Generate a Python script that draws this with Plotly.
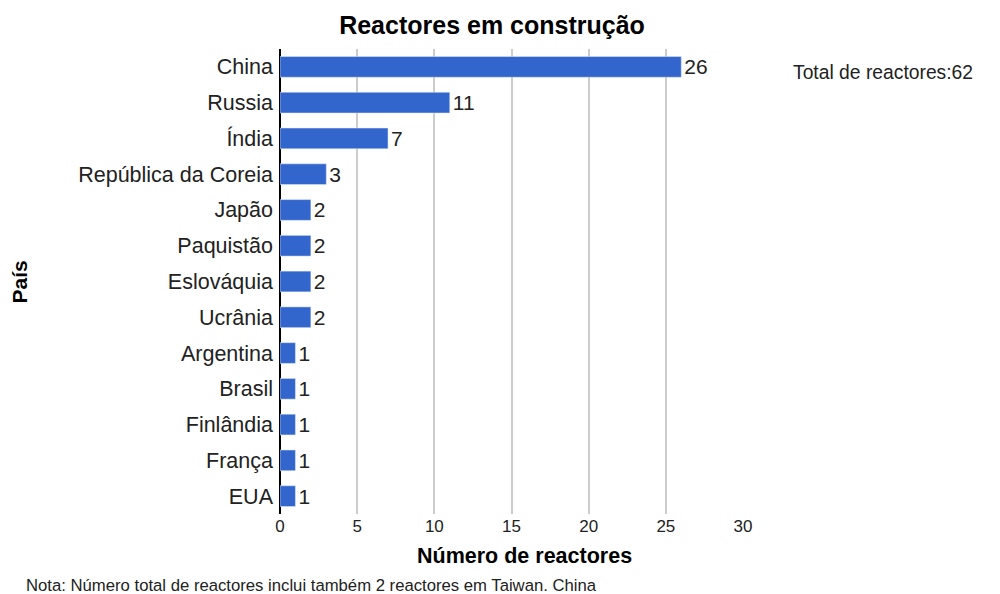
import plotly.graph_objects as go

countries = ["China", "Russia", "Índia", "República da Coreia", "Japão", "Paquistão",
             "Eslováquia", "Ucrânia", "Argentina", "Brasil", "Finlândia", "França", "EUA"]
reactors = [26, 11, 7, 3, 2, 2, 2, 2, 1, 1, 1, 1, 1]
tick_vals = [0, 5, 10, 15, 20, 25, 30]
total = 62

FONT = "Liberation Sans, Arial"

fig = go.Figure(go.Bar(
    x=reactors, y=countries, orientation="h",
    marker=dict(color="#3366cc"),
    width=0.58,
    text=[str(v) for v in reactors], textposition="outside",
    constraintext="none",
    textfont=dict(size=21, color="#222222", family=FONT),
    cliponaxis=False,
))

fig.update_layout(
    width=1000, height=594,
    paper_bgcolor="white", plot_bgcolor="white",
    margin=dict(l=272, r=265, t=41, b=88),
    font=dict(family=FONT, color="#222222"),
    title=dict(text="<b>Reactores em construção</b>", x=0.484, xanchor="center",
               xref="container",
               y=0.971, yanchor="middle", font=dict(size=25, color="#000000")),
    showlegend=False,
)
fig.update_xaxes(
    range=[0, 30], tickvals=tick_vals, showgrid=True, gridcolor="#cccccc", gridwidth=2,
    zeroline=True, zerolinecolor="#000000", zerolinewidth=2,
    tickfont=dict(size=17, color="#222222"), ticks="", showline=False,
)
fig.update_yaxes(
    categoryorder="array", categoryarray=countries, autorange="reversed",
    tickfont=dict(size=21.5, color="#222222"), ticks="", ticklabelstandoff=6,
    showgrid=False,
)
fig.add_annotation(text="<b>Número de reactores</b>", xref="paper", yref="paper",
                   x=0.529, y=-0.09, xanchor="center", yanchor="middle",
                   showarrow=False, font=dict(size=21.5, color="#000000"))
fig.add_annotation(text="<b>País</b>", xref="paper", yref="paper",
                   x=-0.5616, y=0.5, xanchor="center", yanchor="middle", textangle=-90,
                   showarrow=False, font=dict(size=21, color="#000000"))
fig.add_annotation(text="Total de reactores:" + str(total), xref="paper", yref="paper",
                   x=1.104, y=0.95, xanchor="left", yanchor="middle", showarrow=False,
                   font=dict(size=19.3, color="#222222"))
fig.add_annotation(text="Nota: Número total de reactores inclui também 2 reactores em Taiwan. China",
                   xref="paper", yref="paper", x=-0.553, y=-0.153, xanchor="left", yanchor="middle",
                   showarrow=False, font=dict(size=16.7, color="#222222"))

fig.write_html("out.html")
